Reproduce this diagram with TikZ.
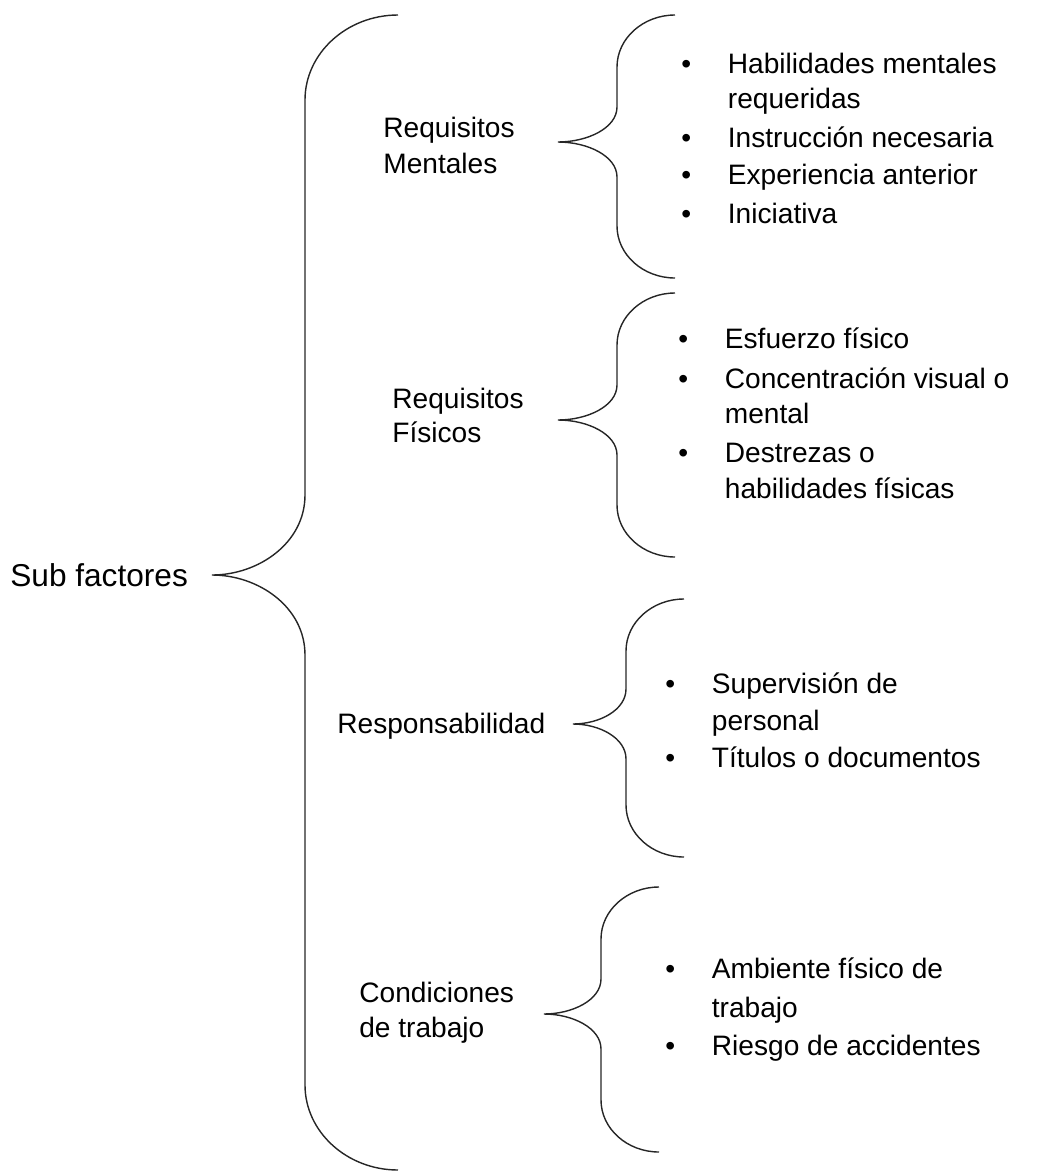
\documentclass[tikz,border=0pt]{standalone}
\usepackage{fontspec}
\setmainfont{Liberation Sans}
\usepackage{tikz}
\usetikzlibrary{positioning}
\tikzset{
  brc/.style={draw=black!85, line width=0.8pt},
  cat/.style={anchor=base west, inner sep=0pt, font=\fontsize{16}{19}\selectfont},
  itm/.style={anchor=base west, inner sep=0pt, font=\fontsize{16}{19}\selectfont},
  top/.style={anchor=base west, inner sep=0pt, font=\fontsize{18}{21}\selectfont}
}
% curly brace: end x, top y, spine x, tip x, tip y, bottom y, end radius, tip radius
\newcommand{\curly}[8]{%
  \draw[brc] (#1,#2) .. controls ({#1-0.55*(#1-#3)},#2) and (#3,{#2+0.45*#7}) .. (#3,{#2+#7})
    -- (#3,{#5-#8}) .. controls (#3,{#5-0.4*#8}) and ({#3-0.5*(#3-#4)},#5) .. (#4,#5)
    .. controls ({#3-0.5*(#3-#4)},#5) and (#3,{#5+0.4*#8}) .. (#3,{#5+#8})
    -- (#3,{#6-#7}) .. controls (#3,{#6-0.45*#7}) and ({#1-0.55*(#1-#3)},#6) .. (#1,#6);}
\newcommand{\bul}{\makebox[26.5pt][l]{\textbullet}}
\newcommand{\ind}{\makebox[26.5pt][l]{}}

\begin{document}
\begin{tikzpicture}[x=0.02cm, y=-0.02cm]
  \useasboundingbox (0,0) rectangle (1039,1174);

  % Main label and big brace
  \node[top] (sub) at (10,586) {Sub factores};
  \curly{398}{15}{305}{212}{575}{1170}{85}{80}

  % Requisitos mentales
  \node[cat] (rm1) at (383,137) {Requisitos};
  \node[cat] (rm2) at (383,173) {Mentales};
  \curly{675}{15}{617}{558}{142}{278}{52}{35}
  \node[itm] (m1) at (681,73) {\bul Habilidades mentales};
  \node[itm] (m2) at (681,108) {\ind requeridas};
  \node[itm] (m3) at (681,147) {\bul Instrucción necesaria};
  \node[itm] (m4) at (681,184) {\bul Experiencia anterior};
  \node[itm] (m5) at (681,223) {\bul Iniciativa};

  % Requisitos fisicos
  \node[cat] (rf1) at (392,408) {Requisitos};
  \node[cat] (rf2) at (392,442) {Físicos};
  \curly{675}{293}{617}{558}{420}{557}{52}{35}
  \node[itm] (f1) at (678,348) {\bul Esfuerzo físico};
  \node[itm] (f2) at (678,388) {\bul Concentración visual o};
  \node[itm] (f3) at (678,423) {\ind mental};
  \node[itm] (f4) at (678,462) {\bul Destrezas o};
  \node[itm] (f5) at (678,498) {\ind habilidades físicas};

  % Responsabilidad
  \node[cat] (rs) at (337,733) {Responsabilidad};
  \curly{684}{599}{626}{573}{724}{857}{52}{35}
  \node[itm] (s1) at (665,693) {\bul Supervisión de};
  \node[itm] (s2) at (665,730) {\ind personal};
  \node[itm] (s3) at (665,767) {\bul Títulos o documentos};

  % Condiciones de trabajo
  \node[cat] (cd1) at (359,1002) {Condiciones};
  \node[cat] (cd2) at (359,1037) {de trabajo};
  \curly{659}{887}{601}{544}{1014}{1152}{52}{35}
  \node[itm] (c1) at (665,978) {\bul Ambiente físico de};
  \node[itm] (c2) at (665,1017) {\ind trabajo};
  \node[itm] (c3) at (665,1055) {\bul Riesgo de accidentes};
\end{tikzpicture}
\end{document}
